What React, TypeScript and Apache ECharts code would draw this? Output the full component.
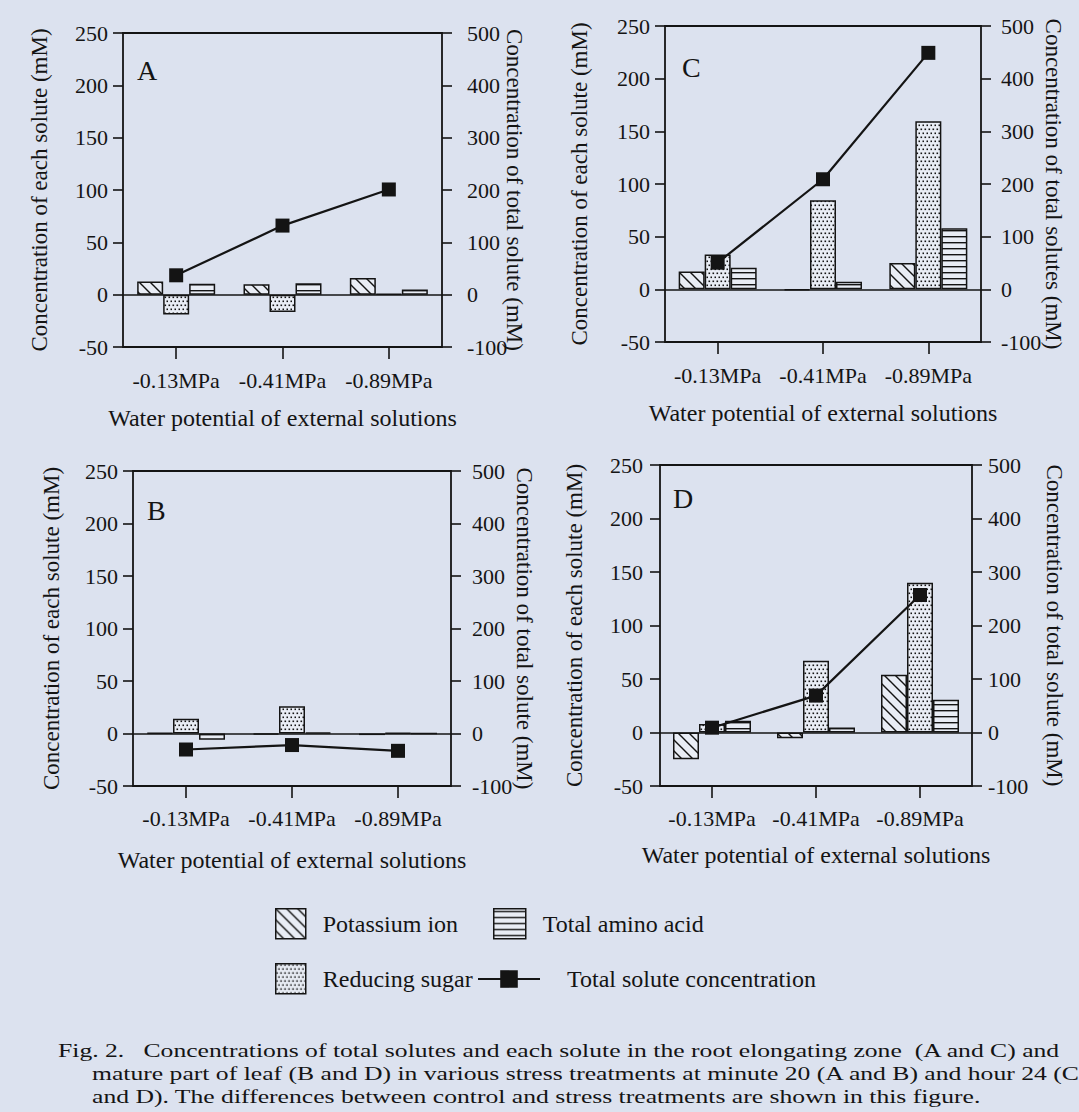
import React, { useEffect, useRef } from 'react';
import * as echarts from 'echarts';

// ---------- data ----------
const categories = ['-0.13MPa', '-0.41MPa', '-0.89MPa'];
const leftTicks = [-50, 0, 50, 100, 150, 200, 250];
const rightTicks = [-100, 0, 100, 200, 300, 400, 500];

// Panel A (root elongating zone, minute 20)
const potassiumA = [12.5, 10, 16];
const sugarA = [-19, -16.5, 0.6];
const aminoA = [10.5, 11, 5];
const totalA = [37, 132, 201];

// Panel C (root elongating zone, hour 24)
const potassiumC = [17, -1, 25];
const sugarC = [33, 84.5, 159.5];
const aminoC = [20.5, 7.3, 58];
const totalC = [50.6, 209, 449];

// Panel B (mature leaf, minute 20)
const potassiumB = [0.5, -1, -1.5];
const sugarB = [14, 26, 0.5];
const aminoB = [-6, 1, 0];
const totalB = [-30.5, -22, -33];

// Panel D (mature leaf, hour 24)
const potassiumD = [-25, -5.3, 54];
const sugarD = [8, 67, 140];
const aminoD = [11, 4.7, 30.5];
const totalD = [9, 69, 257];

const captionLines = [
  'Fig. 2.   Concentrations of total solutes and each solute in the root elongating zone  (A and C) and',
  'mature part of leaf (B and D) in various stress treatments at minute 20 (A and B) and hour 24 (C',
  'and D). The differences between control and stress treatments are shown in this figure.',
];

// ---------- styles / layout ----------
const FONT = '"Liberation Serif", "Times New Roman", serif';
const INK = '#141414';
const BG = '#dce2ef';
const BAR_BG = '#e9edf5';
const FS = 22;

const panels = [
  { letter: 'A', potassium: potassiumA, sugar: sugarA, amino: aminoA, total: totalA,
    rightName: 'Concentration of total solute (mM)',
    grid: { left: 123, top: 33, width: 319, height: 314 },
    letterPos: [137, 70], leftGap: 72, rightGap: 61, leftMargin: 15, rightMargin: 25, catMargin: 22, xNameGap: 59 },
  { letter: 'C', potassium: potassiumC, sugar: sugarC, amino: aminoC, total: totalC,
    rightName: 'Concentration of total solutes (mM)',
    grid: { left: 665, top: 26, width: 316, height: 316 },
    letterPos: [682, 67], leftGap: 74, rightGap: 61, leftMargin: 15, rightMargin: 20, catMargin: 22, xNameGap: 59 },
  { letter: 'B', potassium: potassiumB, sugar: sugarB, amino: aminoB, total: totalB,
    rightName: 'Concentration of total solute (mM)',
    grid: { left: 133, top: 471, width: 318, height: 315 },
    letterPos: [147, 510], leftGap: 70, rightGap: 62, leftMargin: 15, rightMargin: 21, catMargin: 21, xNameGap: 62 },
  { letter: 'D', potassium: potassiumD, sugar: sugarD, amino: aminoD, total: totalD,
    rightName: 'Concentration of total solute (mM)',
    grid: { left: 660, top: 465, width: 312, height: 321 },
    letterPos: [673, 498], leftGap: 74, rightGap: 71, leftMargin: 17, rightMargin: 16, catMargin: 21, xNameGap: 57 },
];

function makePattern(kind: string) {
  const c = document.createElement('canvas');
  let w = 10, h = 10;
  if (kind === 'diag') { w = 11; h = 11; }
  if (kind === 'dots') { w = 4; h = 8; }
  if (kind === 'hlines') { w = 8; h = 6; }
  c.width = w; c.height = h;
  const g = c.getContext('2d') as CanvasRenderingContext2D;
  g.fillStyle = BAR_BG; g.fillRect(0, 0, w, h);
  g.fillStyle = INK; g.strokeStyle = INK;
  if (kind === 'diag') {
    g.lineWidth = 1.4;
    g.beginPath();
    g.moveTo(-2, -2); g.lineTo(w + 2, h + 2);
    g.moveTo(-2, h - 2); g.lineTo(2, h + 2);
    g.moveTo(w - 2, -2); g.lineTo(w + 2, 2);
    g.stroke();
  }
  if (kind === 'dots') {
    g.fillRect(0.5, 0.5, 1.6, 1.6);
    g.fillRect(2.5, 4.5, 1.6, 1.6);
  }
  if (kind === 'hlines') {
    g.fillRect(0, 2, w, 1.4);
  }
  return { image: c, repeat: 'repeat', imageWidth: w, imageHeight: h } as any;
}

function buildOption() {
  const diag = makePattern('diag');
  const dots = makePattern('dots');
  const hlines = makePattern('hlines');
  const text = { fontFamily: FONT, fontSize: FS, color: INK };
  const yName = { fontFamily: FONT, fontSize: 23, color: INK };
  const xName = { fontFamily: FONT, fontSize: 24, color: INK };
  const tickLine = { color: INK, width: 1.6 };

  const grid: any[] = [];
  const xAxis: any[] = [];
  const yAxis: any[] = [];
  const series: any[] = [];
  const graphic: any[] = [];

  panels.forEach((p, i) => {
    grid.push({ ...p.grid, show: true, borderColor: INK, borderWidth: 1.8,
      backgroundColor: 'rgba(0,0,0,0)', containLabel: false, outerBoundsMode: 'none' });
    xAxis.push({
      gridIndex: i, type: 'category', data: categories, position: 'bottom',
      axisLine: { show: false, onZero: false },
      axisTick: { show: true, alignWithLabel: true, length: 12, lineStyle: tickLine },
      axisLabel: { ...text, margin: p.catMargin, interval: 0 },
      splitLine: { show: false },
      name: 'Water potential of external solutions', nameLocation: 'middle', nameGap: p.xNameGap,
      nameTextStyle: xName, nameMoveOverlap: false,
    });
    yAxis.push({
      gridIndex: i, type: 'value', position: 'left',
      min: leftTicks[0], max: leftTicks[leftTicks.length - 1], interval: leftTicks[1] - leftTicks[0],
      axisLine: { show: false }, axisTick: { show: true, length: 10, lineStyle: tickLine },
      axisLabel: { ...text, margin: p.leftMargin }, splitLine: { show: false },
      name: 'Concentration of each solute (mM)', nameLocation: 'middle', nameGap: p.leftGap,
      nameRotate: 90, nameTextStyle: yName, nameMoveOverlap: false,
    });
    yAxis.push({
      gridIndex: i, type: 'value', position: 'right',
      min: rightTicks[0], max: rightTicks[rightTicks.length - 1], interval: rightTicks[1] - rightTicks[0],
      axisLine: { show: false }, axisTick: { show: true, length: 10, lineStyle: tickLine },
      axisLabel: { ...text, margin: p.rightMargin }, splitLine: { show: false },
      name: p.rightName, nameLocation: 'middle', nameGap: p.rightGap,
      nameRotate: -90, nameTextStyle: yName, nameMoveOverlap: false,
    });
    const barDefs = [
      { name: 'Potassium ion', data: p.potassium, fill: diag },
      { name: 'Reducing sugar', data: p.sugar, fill: dots },
      { name: 'Total amino acid', data: p.amino, fill: hlines },
    ];
    barDefs.forEach((b, k) => {
      const s: any = {
        type: 'bar', name: b.name, xAxisIndex: i, yAxisIndex: 2 * i, data: b.data,
        barWidth: 26, barGap: '0%', silent: true, emphasis: { disabled: true }, z: 2,
        itemStyle: { color: b.fill, borderColor: INK, borderWidth: 1.5 },
      };
      if (k === 0) {
        s.markLine = {
          silent: true, symbol: ['none', 'none'], label: { show: false }, z: 3,
          lineStyle: { color: INK, width: 1.7, type: 'solid' }, emphasis: { disabled: true },
          data: [{ yAxis: 0 }],
        };
      }
      series.push(s);
    });
    series.push({
      type: 'line', name: 'Total solute concentration', xAxisIndex: i, yAxisIndex: 2 * i + 1,
      data: p.total, symbol: 'rect', symbolSize: 14, showSymbol: true, silent: true, z: 5,
      itemStyle: { color: INK }, lineStyle: { color: INK, width: 2.2 }, emphasis: { disabled: true },
    });
    graphic.push({
      type: 'text', x: p.letterPos[0], y: p.letterPos[1], silent: true,
      style: { text: p.letter, fontFamily: FONT, fontSize: 28, fill: INK, align: 'left', verticalAlign: 'middle' },
    });
  });

  captionLines.forEach((line, k) => {
    graphic.push({
      type: 'text', x: k === 0 ? 58 : 92, y: 1051 + k * 23, scaleX: 1.35, silent: true,
      style: { text: line, fontFamily: FONT, fontSize: 19, fill: INK, align: 'left', verticalAlign: 'middle' },
    });
  });

  const legendText = { fontFamily: FONT, fontSize: 24, color: INK };
  const legendBase = { orient: 'horizontal', padding: 0, itemGap: 0, selectedMode: false };
  const legend = [
    { ...legendBase, data: [{ name: 'Potassium ion', icon: 'rect' }], left: 275, top: 908,
      itemWidth: 30, itemHeight: 30, itemStyle: { borderColor: INK, borderWidth: 1.5 },
      textStyle: { ...legendText, padding: [0, 0, 0, 12] } },
    { ...legendBase, data: [{ name: 'Total amino acid', icon: 'rect' }], left: 493, top: 908,
      itemWidth: 32, itemHeight: 30, itemStyle: { borderColor: INK, borderWidth: 1.5 },
      textStyle: { ...legendText, padding: [0, 0, 0, 12] } },
    { ...legendBase, data: [{ name: 'Reducing sugar', icon: 'rect' }], left: 275, top: 963,
      itemWidth: 30, itemHeight: 30, itemStyle: { borderColor: INK, borderWidth: 1.5 },
      textStyle: { ...legendText, padding: [0, 0, 0, 12] } },
    { ...legendBase, data: ['Total solute concentration'], left: 477, top: 967,
      itemWidth: 62, itemHeight: 22, itemStyle: { borderWidth: 0 },
      textStyle: { ...legendText, padding: [0, 0, 0, 22] } },
  ];

  return {
    animation: false,
    backgroundColor: BG,
    grid, xAxis, yAxis, series, legend, graphic,
  };
}

export default function App() {
  const ref = useRef<HTMLDivElement>(null);
  useEffect(() => {
    document.body.style.margin = '0';
    document.body.style.background = BG;
    if (!ref.current) return;
    const chart = echarts.init(ref.current, null, { renderer: 'svg' });
    chart.setOption(buildOption() as any);
    return () => chart.dispose();
  }, []);
  return <div ref={ref} style={{ width: 1079, height: 1112 }} />;
}
